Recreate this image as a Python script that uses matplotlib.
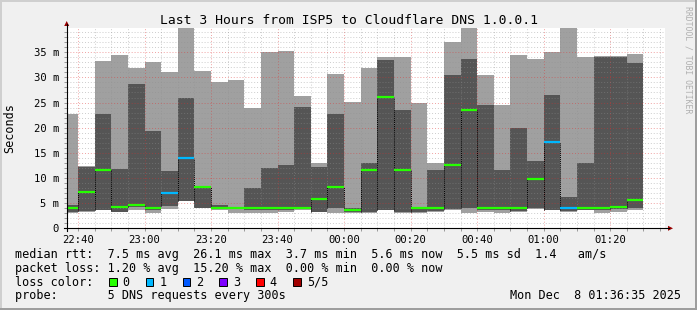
import matplotlib
matplotlib.use("Agg")
import matplotlib.pyplot as plt
import numpy as np
from matplotlib.ticker import MultipleLocator, FuncFormatter
from matplotlib.lines import Line2D
from matplotlib.patches import Rectangle, Polygon

# 5-minute steps, 5 pings each (sorted): min, 2nd, median, 4th, max  [ms]
slots = ["22:35", "22:40", "22:45", "22:50", "22:55", "23:00", "23:05",
         "23:10", "23:15", "23:20", "23:25", "23:30", "23:35", "23:40",
         "23:45", "23:50", "23:55", "00:00", "00:05", "00:10", "00:15",
         "00:20", "00:25", "00:30", "00:35", "00:40", "00:45", "00:50",
         "00:55", "01:00", "01:05", "01:10", "01:15", "01:20", "01:25"]
ping_min = [3.1, 3.3, 3.6, 3.2, 3.7, 3.1, 3.9, 5.4, 4.0, 3.6, 3.1, 3.1,
            3.1, 3.3, 3.7, 3.2, 3.1, 3.1, 3.1, 3.6, 3.1, 3.1, 3.3, 3.6,
            3.1, 3.3, 3.1, 3.3, 3.9, 3.6, 3.3, 3.6, 3.0, 3.2, 3.6]
ping_lo = [3.2, 3.4, 3.7, 3.3, 4.2, 3.6, 4.4, 5.5, 4.1, 3.9, 3.9, 3.6,
           3.6, 3.6, 3.8, 3.3, 4.1, 3.3, 3.2, 3.7, 3.2, 3.2, 3.4, 3.9,
           4.0, 3.6, 3.6, 3.4, 4.0, 3.7, 3.4, 3.7, 3.6, 3.9, 4.0]
median = [4.1, 7.3, 11.6, 4.3, 4.7, 4.1, 7.1, 13.9, 8.2, 4.0, 4.0, 4.0,
          4.0, 4.0, 4.0, 5.8, 8.2, 3.6, 11.5, 26.2, 11.6, 4.1, 4.1, 12.5,
          23.5, 4.0, 4.0, 4.1, 9.9, 17.2, 4.0, 4.0, 4.0, 4.3, 5.6]
ping_hi = [4.6, 12.2, 22.7, 11.8, 28.7, 19.3, 11.4, 25.9, 8.4, 4.6, 4.1,
           8.0, 12.0, 12.6, 24.1, 12.2, 22.7, 4.0, 13.0, 33.5, 23.5, 4.3,
           11.6, 30.5, 33.7, 24.5, 11.6, 20.0, 13.4, 26.5, 6.2, 12.9, 34.1,
           34.1, 32.9]
ping_max = [22.7, 12.3, 33.3, 34.5, 31.9, 33.1, 31.1, 41.0, 31.3, 29.1,
            29.5, 24.0, 35.0, 35.2, 26.3, 13.0, 30.7, 25.2, 31.9, 34.0,
            34.0, 25.0, 13.0, 37.0, 41.0, 30.5, 24.5, 34.5, 33.7, 35.0,
            41.0, 34.1, 34.2, 34.3, 34.7]
lost = [0, 0, 0, 0, 0, 0, 1, 1, 0, 0, 0, 0, 0, 0, 0, 0, 0, 0, 0, 0, 0,
        0, 0, 0, 0, 0, 0, 0, 0, 1, 1, 0, 0, 0, 0]

loss_labels = ["0", "1", "2", "3", "4", "5/5"]
loss_colors = ["#26ff00", "#00b8ff", "#0059ff", "#7e00ff", "#ff0000", "#a10000"]

title = "Last 3 Hours from ISP5 to Cloudflare DNS 1.0.0.1"
legend_lines = [
    "median rtt:  7.5 ms avg  26.1 ms max  3.7 ms min  5.6 ms now  5.5 ms sd  1.4   am/s",
    "packet loss: 1.20 % avg  15.20 % max  0.00 % min  0.00 % now",
    "loss color:",
    "probe:       5 DNS requests every 300s",
]
stamp = "Mon Dec  8 01:36:35 2025"

W, H = 697, 310
mono = "DejaVu Sans Mono"
plt.rcParams["font.family"] = mono


def fx(px):
    return px / W


def fy(py):
    return 1 - py / H


def minutes(s):
    h, m = map(int, s.split(":"))
    t = h * 60 + m - 22 * 60
    return t + 1440 if t < 0 else t


x = np.array([minutes(s) for s in slots], dtype=float)
pmin, plo, pmed = np.array(ping_min), np.array(ping_lo), np.array(median)
phi, pmax = np.array(ping_hi), np.array(ping_max)

fig = plt.figure(figsize=(W / 100, H / 100), dpi=100, facecolor="#f0f0f0")
ax = fig.add_axes([fx(66.7), fy(228.3), fx(665.3) - fx(66.7), fy(27.6) - fy(228.3)])
ax.set_facecolor("white")

# smoke
ax.bar(x, pmax - pmin, bottom=pmin, width=5, align="edge", color="#a0a0a0", lw=0, zorder=1)
ax.bar(x, phi - plo, bottom=plo, width=5, align="edge", color="#555555", lw=0, zorder=1.1)

# step connectors of the median
for i in range(1, len(x)):
    if pmed[i] == pmed[i - 1]:
        continue
    j = i if pmed[i] > pmed[i - 1] else i - 1
    ax.vlines(x[i], plo[j], pmed[j], colors="black", linestyles=(0, (1, 1)), lw=0.7, zorder=3)

ax.hlines(pmed, x, x + 5, colors=[loss_colors[l] for l in lost], lw=1.6, zorder=4)

ax.set_xlim(36.583, 216.583)
ax.set_ylim(0, 39.9)

ax.xaxis.set_major_locator(MultipleLocator(20))
ax.xaxis.set_minor_locator(MultipleLocator(5))
ax.yaxis.set_major_locator(MultipleLocator(5))
ax.yaxis.set_minor_locator(MultipleLocator(1))
ax.xaxis.set_major_formatter(FuncFormatter(
    lambda v, p: f"{int((22 * 60 + v) // 60) % 24:02d}:{int(v) % 60:02d}"))
ax.yaxis.set_major_formatter(FuncFormatter(lambda v, p: "0" if v == 0 else f"{v:.0f} m"))

ax.set_axisbelow(False)
ax.grid(which="minor", color="#8f8f8f", alpha=0.45, ls=(0, (1, 2)), lw=0.7)
ax.grid(which="major", color="#de3030", alpha=0.45, ls=(0, (1, 2)), lw=0.7)
ax.tick_params(which="both", length=2, width=0.7, colors="#999999", labelcolor="black",
               labelsize=7.6)
ax.tick_params(axis="x", which="both", pad=3)
ax.tick_params(axis="y", which="both", pad=3.5)
for sp in ax.spines.values():
    sp.set_visible(False)

# axes with arrows
fig.add_artist(Line2D([fx(66.7)] * 2, [fy(231), fy(24)], transform=fig.transFigure,
                      color="black", lw=0.8))
fig.add_artist(Line2D([fx(63.7), fx(669)], [fy(228.3)] * 2, transform=fig.transFigure,
                      color="black", lw=0.8))
fig.add_artist(Polygon([(fx(64.2), fy(26)), (fx(69.2), fy(26)), (fx(66.7), fy(21))],
                       closed=True, transform=fig.transFigure, color="#990000", lw=0))
fig.add_artist(Polygon([(fx(668), fy(225.8)), (fx(668), fy(230.8)), (fx(673), fy(228.3))],
                       closed=True, transform=fig.transFigure, color="#990000", lw=0))

# texts
fig.text(fx(348.5), fy(23.5), title, ha="center", va="baseline", fontsize=9.35)
fig.text(fx(10), fy(128), "Seconds", rotation=90, ha="center", va="center", fontsize=8.5)
fig.text(fx(688), fy(60), "RRDTOOL / TOBI OETIKER", rotation=270, ha="center",
         va="center", fontsize=5.9, color="#b0b0b0")

for k, line in enumerate(legend_lines):
    fig.text(fx(15), fy(258 + 13.8 * k), line, ha="left", va="baseline", fontsize=8.5)
fig.text(fx(681), fy(299.4), stamp, ha="right", va="baseline", fontsize=8.5)

box_left = [109, 145.7, 182.7, 219.3, 256.3, 293.3]
for bl, lab, col in zip(box_left, loss_labels, loss_colors):
    fig.add_artist(Rectangle((fx(bl), fy(286)), 7.7 / W, 7.7 / H, transform=fig.transFigure,
                             facecolor=col, edgecolor="black", lw=0.7))
    fig.text(fx(bl + 13.5), fy(285.6), lab, ha="left", va="baseline", fontsize=8.5)

# frame
fig.add_artist(Rectangle((0, fy(2)), 1, 2 / H, transform=fig.transFigure, color="#cfcfcf", lw=0))
fig.add_artist(Rectangle((0, 0), 2 / W, 1, transform=fig.transFigure, color="#cfcfcf", lw=0))
fig.add_artist(Rectangle((0, 0), 1, 2 / H, transform=fig.transFigure, color="#9e9e9e", lw=0))
fig.add_artist(Rectangle((fx(695), 0), 2 / W, 1, transform=fig.transFigure, color="#9e9e9e", lw=0))

fig.savefig("out.png", dpi=100, facecolor=fig.get_facecolor())
